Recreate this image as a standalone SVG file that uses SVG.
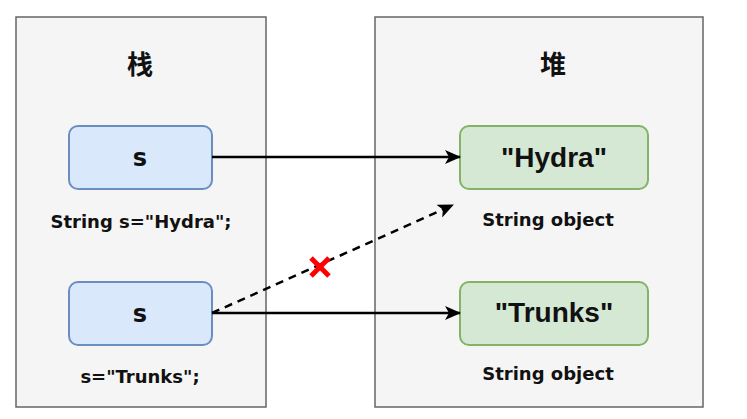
<svg xmlns="http://www.w3.org/2000/svg" width="747" height="419" viewBox="0 0 747 419">
<style>
.container{fill:#f5f5f5;stroke:#666666;stroke-width:1.5}
.var{fill:#dae8fc;stroke:#6c8ebf;stroke-width:2}
.obj{fill:#d5e8d4;stroke:#82b366;stroke-width:2}
.title{font-family:"Noto Sans CJK SC",sans-serif;font-weight:bold;font-size:26px;fill:#111;text-anchor:middle}
.lbl{font-family:"DejaVu Sans",sans-serif;font-weight:bold;font-size:18px;fill:#111;text-anchor:middle}
.vtxt{font-family:"DejaVu Sans",sans-serif;font-weight:bold;font-size:24px;fill:#111;text-anchor:middle}
.otxt{font-family:"Liberation Sans",Arial,sans-serif;font-weight:bold;font-size:28px;fill:#111;text-anchor:middle}
.edge{fill:none;stroke:#000;stroke-width:2.5}
</style>
<defs>
<marker id="arr" viewBox="0 0 16 14" refX="15" refY="7" markerWidth="16" markerHeight="14" markerUnits="userSpaceOnUse" orient="auto">
<path d="M0,0 L16,7 L0,14 L4,7 Z" fill="#000"/>
</marker>
</defs>
<rect width="747" height="419" fill="#ffffff"/>
<g id="stack">
<rect class="container" x="16" y="17" width="250" height="390"/>
<text class="title" x="140" y="74">栈</text>
</g>
<g id="heap">
<rect class="container" x="375" y="17" width="328" height="390"/>
<text class="title" x="553" y="74">堆</text>
</g>
<g id="var1">
<rect class="var" x="69" y="126" width="143" height="63" rx="9"/>
<text class="vtxt" x="140" y="166">s</text>
</g>
<text id="label1" class="lbl" x="141" y="228">String s="Hydra";</text>
<g id="var2">
<rect class="var" x="69" y="282" width="143" height="63" rx="9"/>
<text class="vtxt" x="140" y="322">s</text>
</g>
<text id="label2" class="lbl" x="140" y="383">s="Trunks";</text>
<g id="obj1">
<rect class="obj" x="460" y="126" width="188" height="63" rx="9"/>
<text class="otxt" x="554" y="167">"Hydra"</text>
</g>
<text id="objlabel1" class="lbl" x="548" y="226">String object</text>
<g id="obj2">
<rect class="obj" x="460" y="282" width="188" height="63" rx="9"/>
<text class="otxt" x="554" y="322">"Trunks"</text>
</g>
<text id="objlabel2" class="lbl" x="548" y="380">String object</text>
<g id="connectors">
<line class="edge" x1="212" y1="157" x2="460" y2="157" marker-end="url(#arr)"/>
<line class="edge" x1="212" y1="313" x2="460" y2="313" marker-end="url(#arr)"/>
<line class="edge" x1="212" y1="313" x2="453" y2="205" stroke-dasharray="8 6" marker-end="url(#arr)"/>
</g>
<g id="cross" stroke="#ff0000" stroke-width="5" stroke-linecap="butt">
<line x1="311" y1="258" x2="329" y2="276"/>
<line x1="329" y1="258" x2="311" y2="276"/>
</g>
</svg>
